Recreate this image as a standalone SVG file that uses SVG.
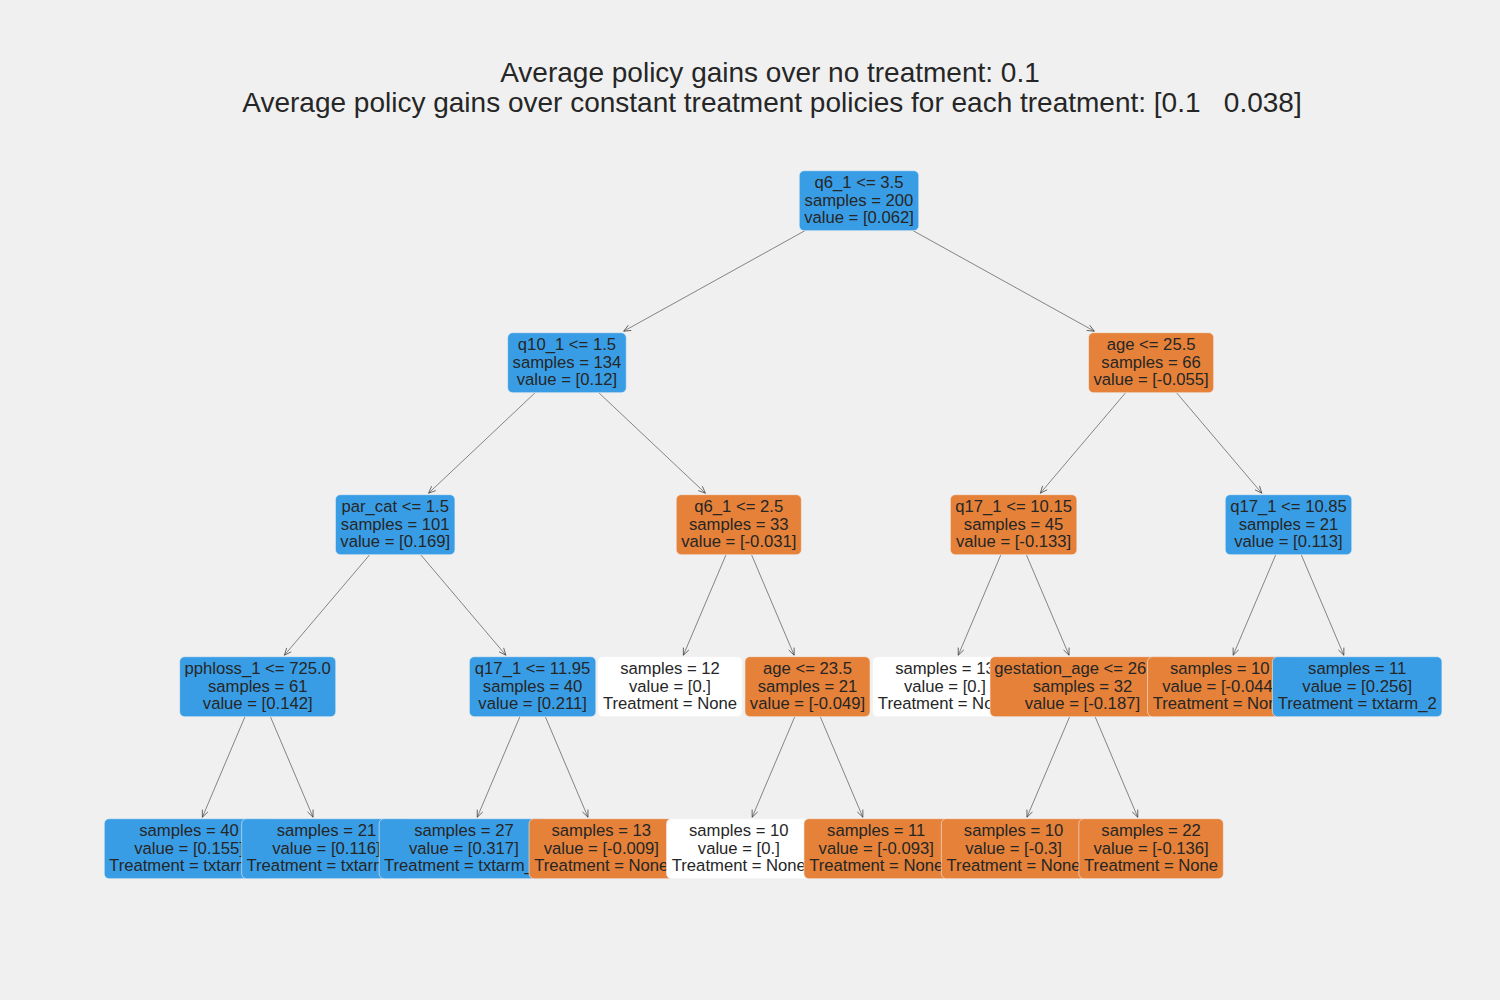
<svg xmlns="http://www.w3.org/2000/svg" width="1500" height="1000" viewBox="0 0 1500 1000">
<style>
text{font-family:"Liberation Sans",Arial,sans-serif;fill:#262626}
.t{font-size:28px;text-anchor:middle}
.n text{font-size:16.67px;text-anchor:middle}
.n text.s{text-anchor:start}
.n rect{stroke:#f0f0f0;stroke-width:0.6}
.b rect{fill:#399de5}
.o rect{fill:#e58139}
.w rect{fill:#ffffff}
.e line{stroke:#3a3a3a;stroke-width:0.6;marker-end:url(#ah)}
</style>
<defs>
<marker id="ah" viewBox="-8 -4 9 8" refX="0" refY="0" markerWidth="9" markerHeight="8" markerUnits="userSpaceOnUse" orient="auto">
<path d="M-7,-3 L0,0 L-7,3" fill="none" stroke="#3a3a3a" stroke-width="0.7"/>
</marker>
</defs>
<rect x="0" y="0" width="1500" height="1000" fill="#f0f0f0"/>
<g id="title">
<text class="t" x="770" y="82">Average policy gains over no treatment: 0.1</text>
<text class="t" x="772" y="112" xml:space="preserve">Average policy gains over constant treatment policies for each treatment: [0.1   0.038]</text>
</g>
<g id="connectors" class="e">
<line x1="804.9" y1="230.7" x2="623.7" y2="331.2"/>
<line x1="535.15" y1="392.7" x2="428.59" y2="493.2"/>
<line x1="369.74" y1="554.7" x2="284.43" y2="655.2"/>
<line x1="244.98" y1="716.7" x2="202.36" y2="817.2"/>
<line x1="270.42" y1="716.7" x2="313.04" y2="817.2"/>
<line x1="420.65" y1="554.7" x2="505.89" y2="655.2"/>
<line x1="519.88" y1="716.7" x2="477.26" y2="817.2"/>
<line x1="545.32" y1="716.7" x2="587.94" y2="817.2"/>
<line x1="598.78" y1="392.7" x2="705.4" y2="493.2"/>
<line x1="726.06" y1="554.7" x2="683.37" y2="655.2"/>
<line x1="751.52" y1="554.7" x2="794.14" y2="655.2"/>
<line x1="794.78" y1="716.7" x2="752.16" y2="817.2"/>
<line x1="820.22" y1="716.7" x2="862.84" y2="817.2"/>
<line x1="913.1" y1="230.7" x2="1094.3" y2="331.2"/>
<line x1="1125.64" y1="392.7" x2="1040.33" y2="493.2"/>
<line x1="1000.88" y1="554.7" x2="958.26" y2="655.2"/>
<line x1="1026.34" y1="554.7" x2="1069.03" y2="655.2"/>
<line x1="1069.66" y1="716.7" x2="1026.97" y2="817.2"/>
<line x1="1095.12" y1="716.7" x2="1137.74" y2="817.2"/>
<line x1="1176.55" y1="392.7" x2="1261.79" y2="493.2"/>
<line x1="1275.78" y1="554.7" x2="1233.16" y2="655.2"/>
<line x1="1301.22" y1="554.7" x2="1343.84" y2="655.2"/>
</g>
<g id="n0" class="n b"><rect x="799.25" y="170.7" width="119.5" height="60" rx="5"/><text x="859" y="187.7">q6_1 &lt;= 3.5</text><text x="859" y="205.7">samples = 200</text><text x="859" y="222.7">value = [0.062]</text></g>
<g id="n1" class="n b"><rect x="507.66" y="332.7" width="118.6" height="60" rx="5"/><text x="566.96" y="349.7">q10_1 &lt;= 1.5</text><text x="566.96" y="367.7">samples = 134</text><text x="566.96" y="384.7">value = [0.12]</text></g>
<g id="n2" class="n b"><rect x="335.45" y="494.7" width="119.5" height="60" rx="5"/><text x="395.2" y="511.7">par_cat &lt;= 1.5</text><text x="395.2" y="529.7">samples = 101</text><text x="395.2" y="546.7">value = [0.169]</text></g>
<g id="n3" class="n b"><rect x="179.65" y="656.7" width="156.1" height="60" rx="5"/><text x="257.7" y="673.7">pphloss_1 &lt;= 725.0</text><text x="257.7" y="691.7">samples = 61</text><text x="257.7" y="708.7">value = [0.142]</text></g>
<g id="n4" class="n b"><rect x="104.25" y="818.7" width="169.5" height="60" rx="5"/><text x="189" y="835.7">samples = 40</text><text x="189" y="853.7">value = [0.155]</text><text class="s" x="109.1" y="870.7">Treatment = txtarm</text></g>
<g id="n5" class="n b"><rect x="241.65" y="818.7" width="169.5" height="60" rx="5"/><text x="326.4" y="835.7">samples = 21</text><text x="326.4" y="853.7">value = [0.116]</text><text class="s" x="246.5" y="870.7">Treatment = txtarm</text></g>
<g id="n6" class="n b"><rect x="469.35" y="656.7" width="126.5" height="60" rx="5"/><text x="532.6" y="673.7">q17_1 &lt;= 11.95</text><text x="532.6" y="691.7">samples = 40</text><text x="532.6" y="708.7">value = [0.211]</text></g>
<g id="n7" class="n b"><rect x="379.15" y="818.7" width="169.5" height="60" rx="5"/><text x="463.9" y="835.7">samples = 27</text><text x="463.9" y="853.7">value = [0.317]</text><text class="s" x="384" y="870.7">Treatment = txtarm_</text></g>
<g id="n8" class="n o"><rect x="529.05" y="818.7" width="144.5" height="60" rx="5"/><text x="601.3" y="835.7">samples = 13</text><text x="601.3" y="853.7">value = [-0.009]</text><text x="601.3" y="870.7">Treatment = None</text></g>
<g id="n9" class="n o"><rect x="676.25" y="494.7" width="125.1" height="60" rx="5"/><text x="738.8" y="511.7">q6_1 &lt;= 2.5</text><text x="738.8" y="529.7">samples = 33</text><text x="738.8" y="546.7">value = [-0.031]</text></g>
<g id="n10" class="n w"><rect x="597.75" y="656.7" width="144.5" height="60" rx="5"/><text x="670" y="673.7">samples = 12</text><text x="670" y="691.7">value = [0.]</text><text x="670" y="708.7">Treatment = None</text></g>
<g id="n11" class="n o"><rect x="744.95" y="656.7" width="125.1" height="60" rx="5"/><text x="807.5" y="673.7">age &lt;= 23.5</text><text x="807.5" y="691.7">samples = 21</text><text x="807.5" y="708.7">value = [-0.049]</text></g>
<g id="n12" class="n w"><rect x="666.55" y="818.7" width="144.5" height="60" rx="5"/><text x="738.8" y="835.7">samples = 10</text><text x="738.8" y="853.7">value = [0.]</text><text x="738.8" y="870.7">Treatment = None</text></g>
<g id="n13" class="n o"><rect x="803.95" y="818.7" width="144.5" height="60" rx="5"/><text x="876.2" y="835.7">samples = 11</text><text x="876.2" y="853.7">value = [-0.093]</text><text x="876.2" y="870.7">Treatment = None</text></g>
<g id="n14" class="n o"><rect x="1088.55" y="332.7" width="125.1" height="60" rx="5"/><text x="1151.1" y="349.7">age &lt;= 25.5</text><text x="1151.1" y="367.7">samples = 66</text><text x="1151.1" y="384.7">value = [-0.055]</text></g>
<g id="n15" class="n o"><rect x="950.35" y="494.7" width="126.5" height="60" rx="5"/><text x="1013.6" y="511.7">q17_1 &lt;= 10.15</text><text x="1013.6" y="529.7">samples = 45</text><text x="1013.6" y="546.7">value = [-0.133]</text></g>
<g id="n16" class="n w"><rect x="872.65" y="656.7" width="144.5" height="60" rx="5"/><text x="944.9" y="673.7">samples = 13</text><text x="944.9" y="691.7">value = [0.]</text><text x="944.9" y="708.7">Treatment = None</text></g>
<g id="n17" class="n o"><rect x="990" y="656.7" width="184.8" height="60" rx="5"/><text class="s" x="994.3" y="673.7">gestation_age &lt;= 26</text><text x="1082.4" y="691.7">samples = 32</text><text x="1082.4" y="708.7">value = [-0.187]</text></g>
<g id="n18" class="n o"><rect x="941.35" y="818.7" width="144.5" height="60" rx="5"/><text x="1013.6" y="835.7">samples = 10</text><text x="1013.6" y="853.7">value = [-0.3]</text><text x="1013.6" y="870.7">Treatment = None</text></g>
<g id="n19" class="n o"><rect x="1078.85" y="818.7" width="144.5" height="60" rx="5"/><text x="1151.1" y="835.7">samples = 22</text><text x="1151.1" y="853.7">value = [-0.136]</text><text x="1151.1" y="870.7">Treatment = None</text></g>
<g id="n20" class="n b"><rect x="1225.25" y="494.7" width="126.5" height="60" rx="5"/><text x="1288.5" y="511.7">q17_1 &lt;= 10.85</text><text x="1288.5" y="529.7">samples = 21</text><text x="1288.5" y="546.7">value = [0.113]</text></g>
<g id="n21" class="n o"><rect x="1147.55" y="656.7" width="144.5" height="60" rx="5"/><text x="1219.8" y="673.7">samples = 10</text><text x="1219.8" y="691.7">value = [-0.044]</text><text x="1219.8" y="708.7">Treatment = None</text></g>
<g id="n22" class="n b"><rect x="1272.45" y="656.7" width="169.5" height="60" rx="5"/><text x="1357.2" y="673.7">samples = 11</text><text x="1357.2" y="691.7">value = [0.256]</text><text x="1357.2" y="708.7">Treatment = txtarm_2</text></g>
</svg>
